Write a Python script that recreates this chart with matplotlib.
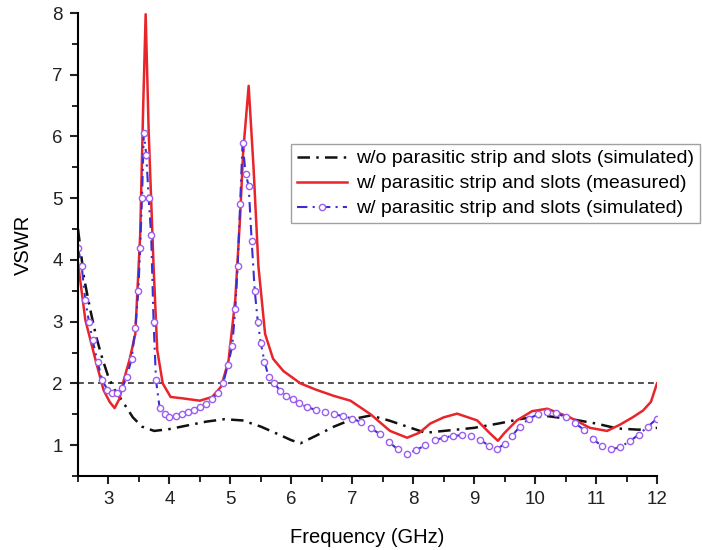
import matplotlib
matplotlib.use("Agg")
import matplotlib.pyplot as plt
from matplotlib.ticker import MultipleLocator

plt.rcParams['font.family'] = ['Liberation Sans', 'DejaVu Sans']

# w/o parasitic strip and slots (simulated)
bx = [2.5, 2.6, 2.7, 2.8, 2.9, 3.0, 3.1, 3.25, 3.4, 3.55, 3.75, 4.0, 4.3, 4.6, 4.9,
      5.2, 5.5, 5.8, 6.0, 6.15, 6.4, 6.7, 7.0, 7.3, 7.6, 7.9, 8.2, 8.6, 9.0, 9.4,
      9.8, 10.2, 10.6, 11.0, 11.35, 11.7, 12.0]
by = [4.5, 3.7, 3.2, 2.75, 2.4, 2.1, 1.9, 1.68, 1.45, 1.3, 1.23, 1.26, 1.32, 1.38, 1.42,
      1.4, 1.3, 1.17, 1.08, 1.03, 1.15, 1.3, 1.42, 1.48, 1.4, 1.3, 1.2, 1.24, 1.28, 1.35,
      1.43, 1.47, 1.42, 1.35, 1.27, 1.25, 1.28]

# w/ parasitic strip and slots (measured)
rx = [2.5, 2.62, 2.79, 2.92, 3.02, 3.1, 3.18, 3.25, 3.35, 3.44, 3.52, 3.57, 3.61, 3.66,
      3.74, 3.8, 3.89, 4.02, 4.2, 4.5, 4.7, 4.85, 4.97, 5.08, 5.16, 5.21, 5.3, 5.38,
      5.46, 5.57, 5.7, 5.87, 6.15, 6.4, 6.69, 6.97, 7.3, 7.62, 7.9, 8.1, 8.28, 8.5,
      8.72, 9.05, 9.26, 9.39, 9.5, 9.7, 9.95, 10.2, 10.57, 10.9, 11.18, 11.39, 11.6,
      11.77, 11.9, 12.0]
ry = [3.95, 3.03, 2.37, 1.89, 1.7, 1.6, 1.75, 2.05, 2.4, 2.8, 4.4, 6.5, 7.98, 6.07,
      3.9, 2.54, 2.0, 1.78, 1.76, 1.72, 1.78, 1.95, 2.37, 3.35, 4.7, 5.75, 6.82, 5.5,
      3.9, 2.8, 2.4, 2.2, 2.0, 1.9, 1.8, 1.72, 1.5, 1.23, 1.12, 1.2, 1.35, 1.45,
      1.51, 1.4, 1.19, 1.07, 1.2, 1.4, 1.55, 1.59, 1.45, 1.28, 1.23, 1.33, 1.45,
      1.56, 1.7, 2.0]

# w/ parasitic strip and slots (simulated)
px = [2.5, 2.56, 2.62, 2.68, 2.74, 2.82, 2.9, 2.98, 3.06, 3.14, 3.22, 3.3, 3.38, 3.44,
      3.49, 3.52, 3.55, 3.58, 3.62, 3.66, 3.7, 3.74, 3.78, 3.84, 3.92, 4.0, 4.1, 4.2,
      4.3, 4.4, 4.5, 4.6, 4.7, 4.8, 4.88, 4.96, 5.03, 5.08, 5.12, 5.16, 5.2, 5.25,
      5.3, 5.35, 5.4, 5.45, 5.5, 5.56, 5.63, 5.72, 5.82, 5.92, 6.02, 6.12, 6.25,
      6.4, 6.55, 6.7, 6.85, 7.0, 7.15, 7.3, 7.45, 7.6, 7.75, 7.9, 8.05, 8.2, 8.35,
      8.5, 8.65, 8.8, 8.95, 9.1, 9.25, 9.38, 9.5, 9.62, 9.75, 9.9, 10.05, 10.2,
      10.35, 10.5, 10.65, 10.8, 10.95, 11.1, 11.25, 11.4, 11.55, 11.7, 11.85, 12.0]
py = [4.2, 3.9, 3.35, 3.0, 2.7, 2.35, 2.05, 1.9, 1.85, 1.85, 1.92, 2.1, 2.4, 2.9,
      3.5, 4.2, 5.0, 6.05, 5.7, 5.0, 4.4, 3.0, 2.05, 1.6, 1.5, 1.45, 1.47, 1.5,
      1.53, 1.57, 1.62, 1.67, 1.75, 1.85, 2.0, 2.3, 2.6, 3.2, 3.9, 4.9, 5.9, 5.4,
      5.2, 4.3, 3.5, 3.0, 2.65, 2.35, 2.1, 2.0, 1.88, 1.8, 1.74, 1.68, 1.62,
      1.57, 1.53, 1.5, 1.47, 1.43, 1.37, 1.28, 1.18, 1.05, 0.93, 0.86, 0.92, 1.0, 1.08,
      1.12, 1.15, 1.16, 1.14, 1.08, 0.99, 0.94, 1.02, 1.15, 1.3, 1.43, 1.5, 1.53,
      1.52, 1.45, 1.36, 1.25, 1.1, 0.98, 0.93, 0.97, 1.06, 1.17, 1.3, 1.43]

ref_level = 2.0
labels = ["w/o parasitic strip and slots (simulated)",
          "w/ parasitic strip and slots (measured)",
          "w/ parasitic strip and slots (simulated)"]

fig = plt.figure(figsize=(7.02, 5.5), dpi=100)
ax = fig.add_axes([78 / 702, 1 - 476 / 550, (657 - 78) / 702, (476 - 13) / 550])

ax.plot([2.5, 12], [ref_level, ref_level], color="#333333", lw=1.2, ls=(0, (3.5, 2.5)))
ax.plot(bx, by, color="#111111", lw=1.8, dashes=(5, 2.5, 1, 2.5), label=labels[0])
ax.plot(rx, ry, color="#e8252a", lw=1.8, label=labels[1])
ax.plot(px, py, color="#3b2fd2", lw=1.5, dashes=(5, 2.5, 1, 2.5),
        marker="o", ms=4.5, mfc="white", mec="#9a5ef0", mew=1.0, label=labels[2])

ax.set_xlim(2.5, 12)
ax.set_ylim(0.5, 8)
ax.xaxis.set_major_locator(MultipleLocator(1))
ax.xaxis.set_minor_locator(MultipleLocator(0.5))
ax.yaxis.set_major_locator(MultipleLocator(1))
ax.yaxis.set_minor_locator(MultipleLocator(0.5))
ax.spines["top"].set_visible(False)
ax.spines["right"].set_visible(False)
for s in ("left", "bottom"):
    ax.spines[s].set_linewidth(1.5)
ax.tick_params(which="major", direction="out", length=6, width=1.5, labelsize=13.5,
               colors="#222222", pad=5)
ax.tick_params(which="minor", direction="out", length=4, width=1.2)

ax.set_xlabel("Frequency (GHz)", fontsize=14.5, labelpad=14)
ax.set_ylabel("VSWR", fontsize=14.5, labelpad=14)

leg = fig.legend(loc="upper left", bbox_to_anchor=(291 / 702, 1 - 144 / 550),
                 fontsize=14, frameon=True, fancybox=False, handlelength=2.6,
                 handletextpad=0.45, borderpad=0.3, labelspacing=0.38, borderaxespad=0)
leg.get_frame().set_edgecolor("#888888")
leg.get_frame().set_linewidth(1.0)

fig.savefig("out.png", dpi=100)
